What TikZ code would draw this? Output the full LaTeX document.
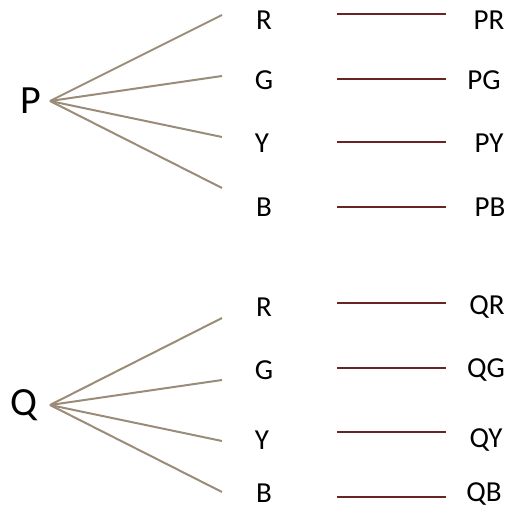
\documentclass[tikz,border=0pt]{standalone}
\usepackage{fontspec}
\setmainfont{Carlito}
\definecolor{fancol}{HTML}{9A8C78}
\definecolor{linecol}{HTML}{6B2424}
\begin{document}
\begin{tikzpicture}[x=1pt,y=-1pt]
\tikzstyle{lbl}=[inner sep=0pt,font=\fontsize{29}{29}\selectfont]
\tikzstyle{big}=[inner sep=0pt,font=\fontsize{40}{40}\selectfont]
\tikzstyle{fan}=[draw=fancol,line width=2pt]
\tikzstyle{bar}=[draw=linecol,line width=2pt]
\useasboundingbox (0,0) rectangle (508,510);

% P tree
\node[big] at (31,101) (P) {P};
\coordinate (pa) at (50,101);
\coordinate (p1) at (222,15);
\coordinate (p2) at (222,76);
\coordinate (p3) at (222,137);
\coordinate (p4) at (222,188);

\node[lbl] at (264,20) (pr) {R};
\node[lbl] at (264,80) (pg) {G};
\node[lbl] at (262,143) (py) {Y};
\node[lbl] at (264,207) (pb) {B};

\coordinate (l1) at (337,14);  \coordinate (r1) at (446,14);
\coordinate (l2) at (337,79);  \coordinate (r2) at (446,79);
\coordinate (l3) at (337,142); \coordinate (r3) at (446,142);
\coordinate (l4) at (337,207); \coordinate (r4) at (446,207);

\node[lbl] at (489,20) (ppr) {PR};
\node[lbl] at (484,80) (ppg) {PG};
\node[lbl] at (489,143) (ppy) {PY};
\node[lbl] at (490,207) (ppb) {PB};

\draw[fan] (pa) -- (p1);
\draw[fan] (pa) -- (p2);
\draw[fan] (pa) -- (p3);
\draw[fan] (pa) -- (p4);

\draw[bar] (l1) -- (r1);
\draw[bar] (l2) -- (r2);
\draw[bar] (l3) -- (r3);
\draw[bar] (l4) -- (r4);

% Q tree
\node[big] at (24,405) (Q) {Q};
\coordinate (qa) at (50,405);
\coordinate (q1) at (222,318);
\coordinate (q2) at (222,380);
\coordinate (q3) at (222,441);
\coordinate (q4) at (222,492);

\node[lbl] at (264,307) (qr) {R};
\node[lbl] at (264,370) (qg) {G};
\node[lbl] at (262,440) (qy) {Y};
\node[lbl] at (264,493) (qb) {B};

\coordinate (m1) at (337,303); \coordinate (s1) at (446,303);
\coordinate (m2) at (337,368); \coordinate (s2) at (446,368);
\coordinate (m3) at (337,432); \coordinate (s3) at (446,432);
\coordinate (m4) at (337,497); \coordinate (s4) at (446,497);

\node[lbl] at (487,307) (qqr) {QR};
\node[lbl] at (486,370) (qqg) {QG};
\node[lbl] at (486,440) (qqy) {QY};
\node[lbl] at (484,494) (qqb) {QB};

\draw[fan] (qa) -- (q1);
\draw[fan] (qa) -- (q2);
\draw[fan] (qa) -- (q3);
\draw[fan] (qa) -- (q4);

\draw[bar] (m1) -- (s1);
\draw[bar] (m2) -- (s2);
\draw[bar] (m3) -- (s3);
\draw[bar] (m4) -- (s4);
\end{tikzpicture}
\end{document}
